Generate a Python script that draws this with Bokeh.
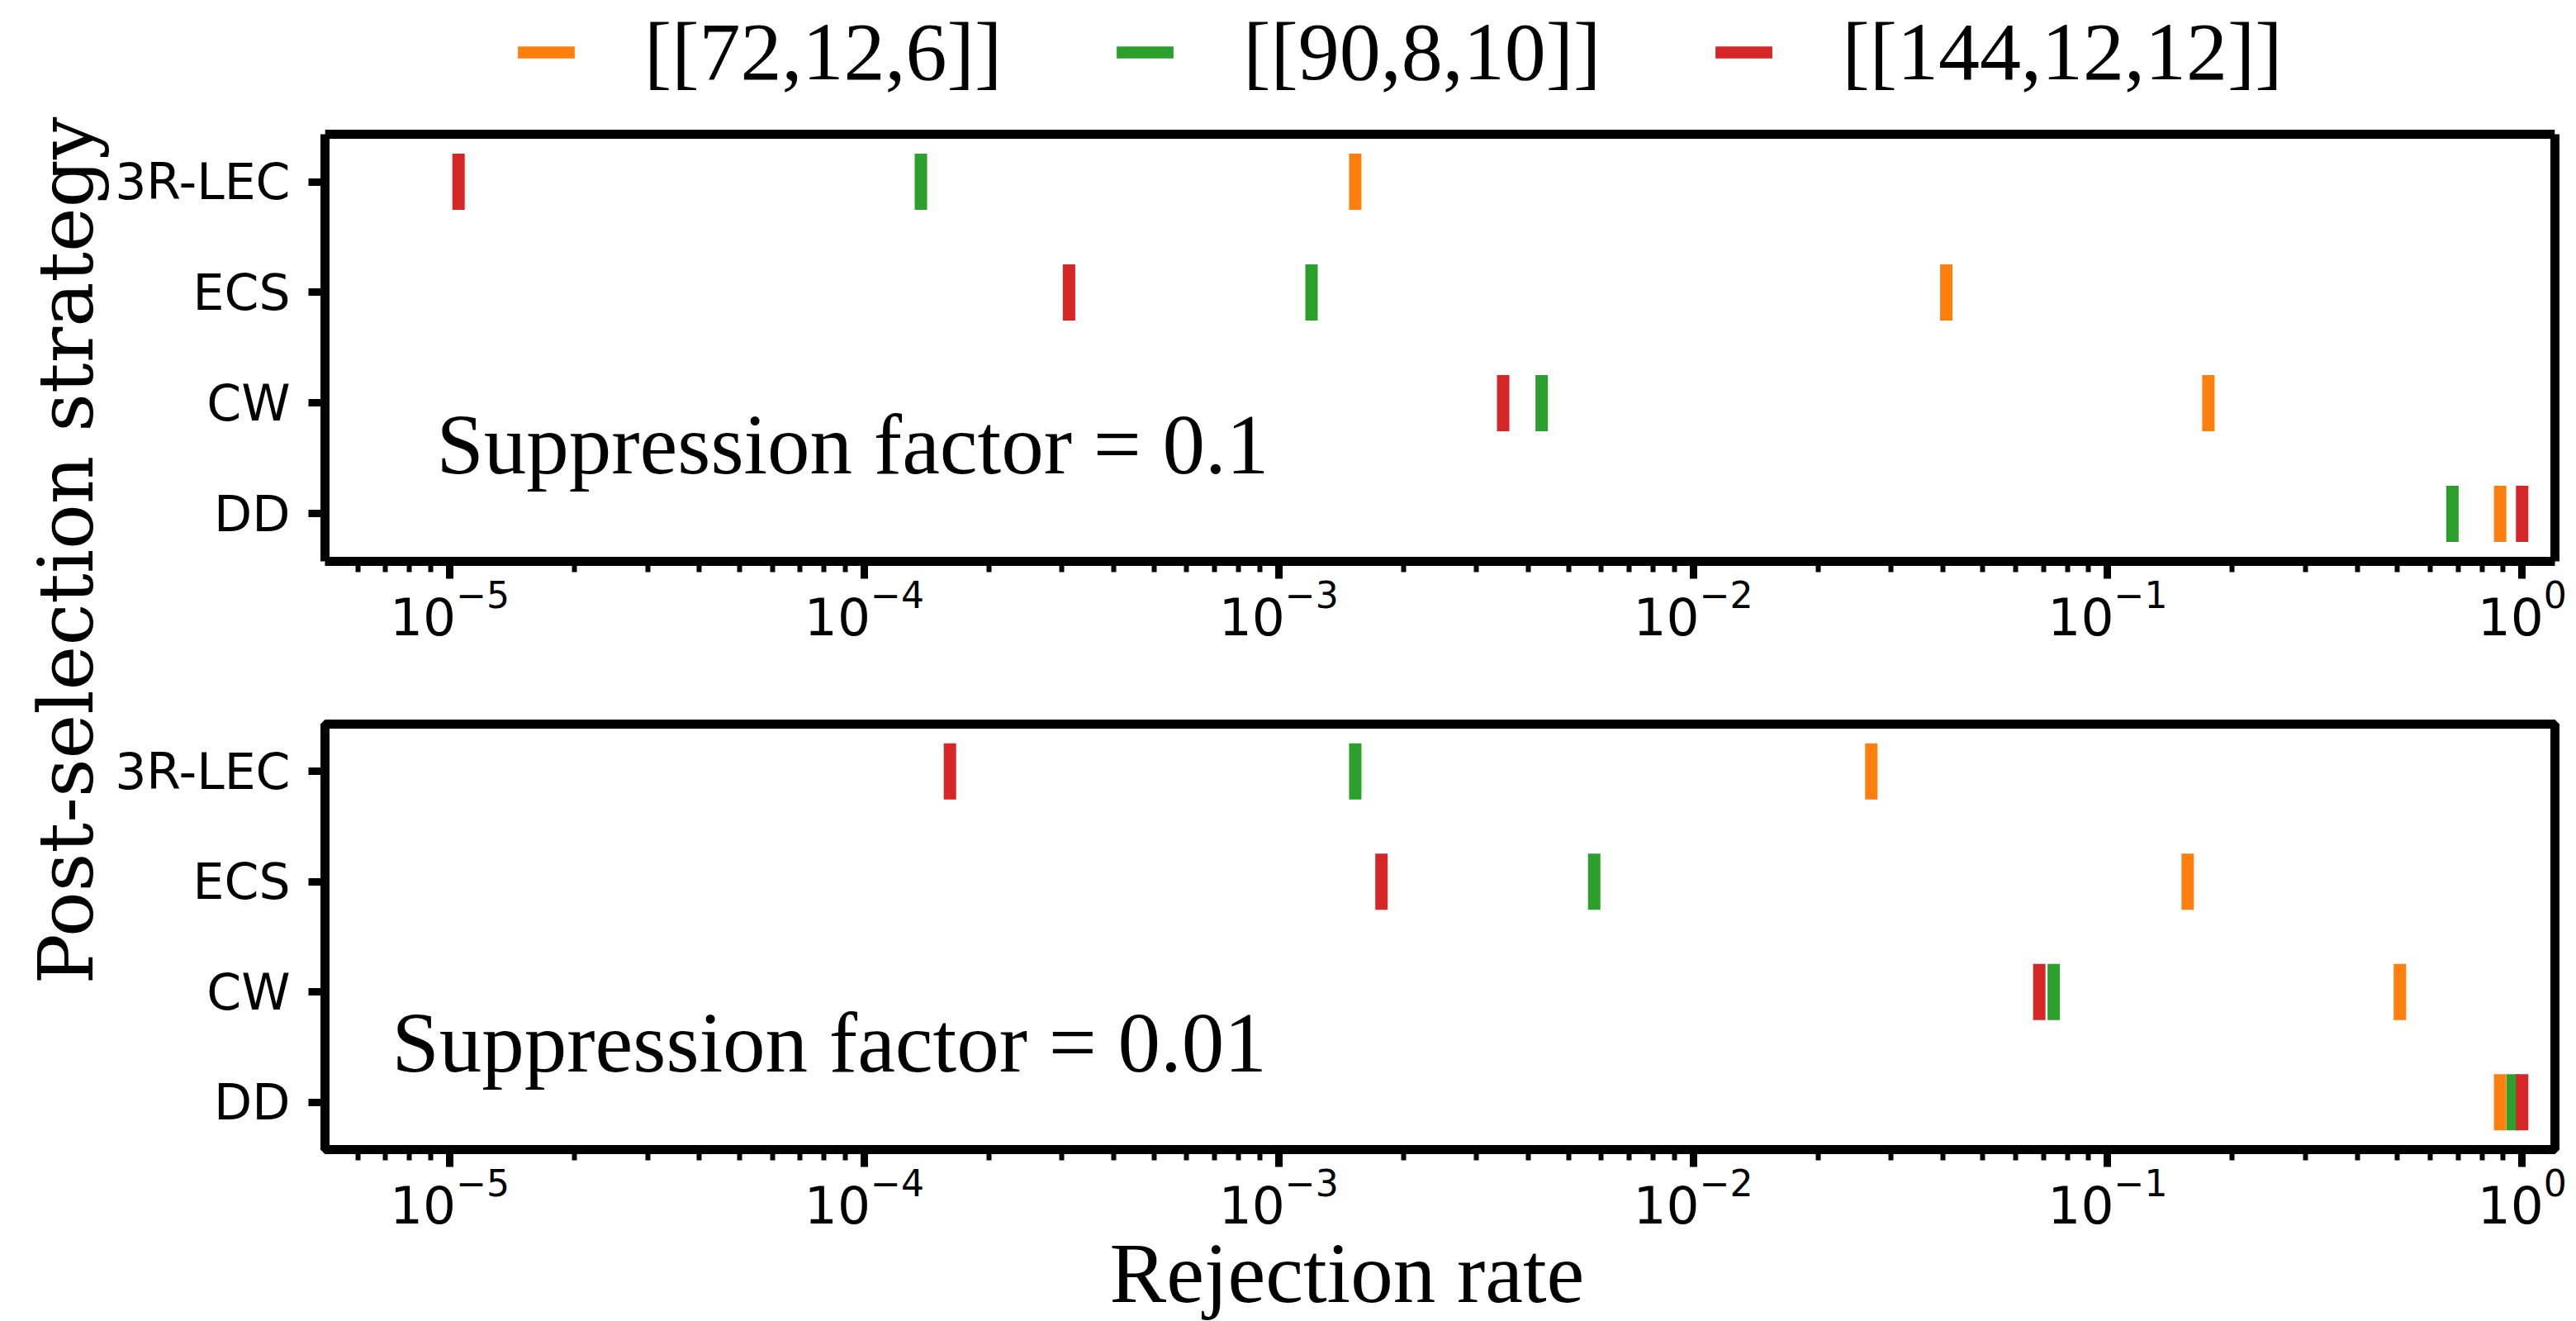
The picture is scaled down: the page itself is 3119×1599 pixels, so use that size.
from bokeh.plotting import figure
from bokeh.models import (Range1d, FixedTicker, Legend, LegendItem, Label, Title,
                          Span, LinearAxis, ColumnDataSource)
from bokeh.layouts import row, column
from bokeh.embed import file_html
from bokeh.resources import INLINE

# ---------------- data ----------------
strategies = ["3R-LEC", "ECS", "CW", "DD"]
codes = ["[[72,12,6]]", "[[90,8,10]]", "[[144,12,12]]"]
colors = ["#ff7f0e", "#2ca02c", "#d62728"]
panel_labels = ["Suppression factor = 0.1", "Suppression factor = 0.01"]

# suppression factor 0.1 (rejection rate per strategy)
rate_72_sf01 = [1.53e-3, 4.08e-2, 1.75e-1, 8.85e-1]
rate_90_sf01 = [1.37e-4, 1.20e-3, 4.31e-3, 6.79e-1]
rate_144_sf01 = [1.05e-5, 3.12e-4, 3.48e-3, 1.0]

# suppression factor 0.01
rate_72_sf001 = [2.69e-2, 1.56e-1, 5.07e-1, 8.85e-1]
rate_90_sf001 = [1.53e-3, 5.77e-3, 7.41e-2, 9.49e-1]
rate_144_sf001 = [1.61e-4, 1.77e-3, 6.84e-2, 1.0]

x_major = [1e-5, 1e-4, 1e-3, 1e-2, 1e-1, 1.0]
x_min, x_max = 5e-6, 1.2

# ---------------- style / layout ----------------
SERIF = "Liberation Serif"
SANS = "DejaVu Sans"
Y_LO, Y_HI = -0.43, 3.43          # vertical extent of a panel box (category units)
LEGEND_ROOM = 162 / 134.0         # extra category units above the top panel for the legend

strategy_pos = list(range(len(strategies) - 1, -1, -1))   # first strategy at the top
x_range = Range1d(x_min, x_max)
minor = [m * 10.0 ** k for k in range(-6, 1) for m in range(2, 10)
         if x_min <= m * 10.0 ** k <= x_max]


def make_panel(rate_sets, label_text, y_top, border_top, border_bottom, fh, lx, ly):
    p = figure(x_axis_type="log", x_range=x_range, y_range=Range1d(Y_LO, y_top),
               frame_width=2700, frame_height=fh,
               min_border_left=260, min_border_right=20,
               min_border_top=border_top, min_border_bottom=border_bottom,
               title=None, toolbar_location=None, output_backend="svg")
    rends = []
    for code, color, rates in zip(codes, colors, rate_sets):
        src = ColumnDataSource(dict(rate=rates, pos=strategy_pos))
        rends.append(p.rect(x="rate", y="pos", width=15, height=68,
                            width_units="screen", height_units="screen",
                            source=src, fill_color=color, line_color=None))
    p.xgrid.visible = False
    p.ygrid.visible = False
    p.outline_line_color = "black"
    p.outline_line_width = 11
    p.outline_line_alpha = 1.0

    xa = p.xaxis[0]
    xa.ticker = FixedTicker(ticks=x_major, minor_ticks=minor)
    ya = p.yaxis[0]
    ya.ticker = FixedTicker(ticks=strategy_pos)
    ya.major_label_overrides = {pos: name for pos, name in zip(strategy_pos, strategies)}
    ya.minor_tick_line_color = None
    for ax in (xa, ya):
        ax.axis_line_width = 11
        ax.axis_line_color = "black"
        ax.major_tick_line_width = 9
        ax.major_tick_line_color = "black"
        ax.major_tick_in = 0
        ax.major_label_text_font = SANS
        ax.major_label_text_color = "black"
    xa.major_label_text_font_size = "63px"
    ya.major_label_text_font_size = "60px"
    xa.major_tick_out = 21
    xa.minor_tick_out = 13
    xa.minor_tick_in = 0
    xa.minor_tick_line_width = 6
    xa.minor_tick_line_color = "black"
    xa.major_label_standoff = 0
    ya.major_tick_out = 20
    ya.major_label_standoff = 22

    p.add_layout(Label(x=lx, y=ly, x_units="screen", y_units="screen",
                       text=label_text, text_font=SERIF,
                       text_font_size="103px", text_color="black",
                       text_baseline="alphabetic", text_align="left"))
    return p, rends


# ---- top panel: its frame also holds the legend strip above the box ----
top, top_rends = make_panel([rate_72_sf01, rate_90_sf01, rate_144_sf01],
                            panel_labels[0], Y_HI + LEGEND_ROOM, 0, 121, 679, 135, 142)
top.outline_line_color = None
top.yaxis[0].bounds = (Y_LO, Y_HI)
top.add_layout(Span(location=Y_HI, dimension="width", line_color="black",
                    line_width=11))
right_ax = LinearAxis(bounds=(Y_LO, Y_HI), ticker=FixedTicker(ticks=[]),
                      axis_line_width=11, axis_line_color="black",
                      major_tick_out=0, major_tick_in=0, minor_tick_out=0,
                      minor_tick_in=0, major_label_standoff=0)
top.add_layout(right_ax, "right")

legend = Legend(items=[LegendItem(label=c, renderers=[r])
                       for c, r in zip(codes, top_rends)],
                location=(225, 559), orientation="horizontal",
                glyph_width=86, glyph_height=18, label_standoff=76, spacing=130,
                padding=0, margin=0, border_line_alpha=0,
                background_fill_alpha=0,
                label_text_font=SERIF, label_text_font_size="100px",
                label_text_color="black")
top.add_layout(legend)

# ---- bottom panel, with the x label as a title underneath ----
bottom, _ = make_panel([rate_72_sf001, rate_90_sf001, rate_144_sf001],
                       panel_labels[1], Y_HI, 76, 94, 515, 81, 130)
bottom.add_layout(Title(text="Rejection rate", align="left", offset=950,
                        vertical_align="top", standoff=0,
                        text_font=SERIF, text_font_size="103px",
                        text_font_style="normal", text_color="black"), "below")

# ---- shared y label on the left (axis label of a thin strip) ----
left = figure(frame_width=1, frame_height=1332, min_border_left=132,
              min_border_right=0, min_border_top=0, min_border_bottom=267,
              x_axis_location=None, y_axis_location="left", title=None,
              x_range=Range1d(0, 1), y_range=Range1d(0, 1),
              toolbar_location=None, output_backend="svg")
left.outline_line_color = None
left.xgrid.visible = False
left.ygrid.visible = False
lya = left.yaxis[0]
lya.ticker = FixedTicker(ticks=[])
lya.axis_line_color = None
lya.major_tick_line_color = None
lya.minor_tick_line_color = None
lya.major_tick_out = 0
lya.major_tick_in = 0
lya.minor_tick_out = 0
lya.major_label_standoff = 0
lya.axis_label = "Post-selection strategy"
lya.axis_label_text_font = "DejaVu Serif"
lya.axis_label_text_font_size = "91px"
lya.axis_label_text_font_style = "normal"
lya.axis_label_text_color = "black"
lya.axis_label_standoff = 0

layout = row(left, column(top, bottom))
open("out.html", "w").write(file_html(layout, INLINE))
